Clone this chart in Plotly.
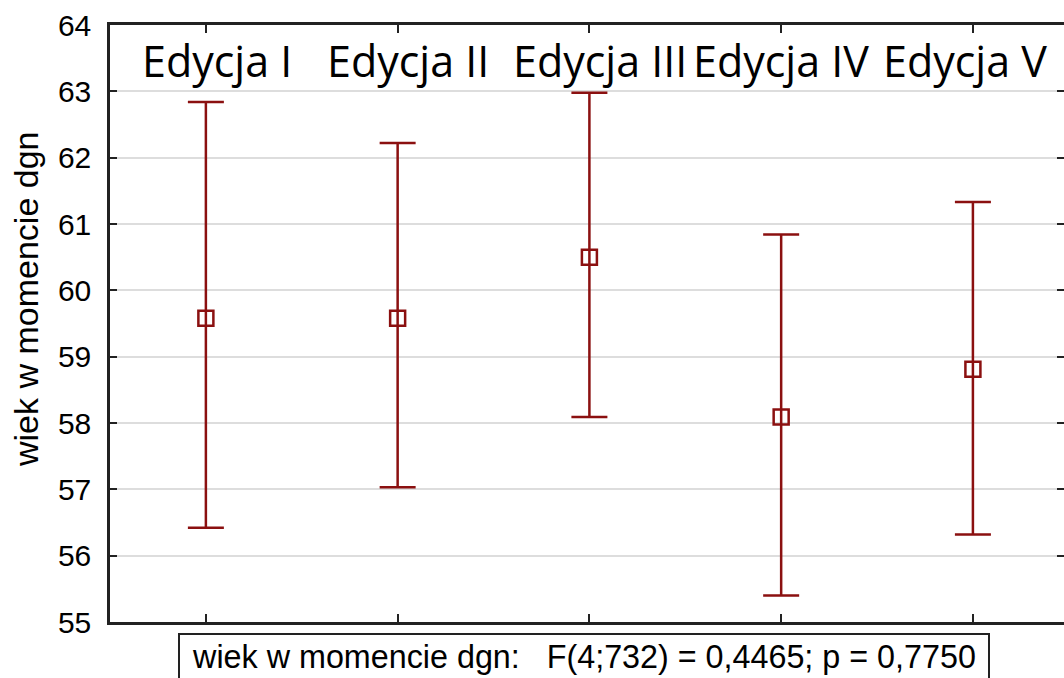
import plotly.graph_objects as go

categories = ["Edycja I", "Edycja II", "Edycja III", "Edycja IV", "Edycja V"]
positions = [1, 2, 3, 4, 5]
means = [59.58, 59.58, 60.50, 58.09, 58.81]
upper = [62.84, 62.22, 62.98, 60.84, 61.33]
lower = [56.42, 57.03, 58.09, 55.40, 56.32]
y_ticks = [55, 56, 57, 58, 59, 60, 61, 62, 63, 64]
y_title = "wiek w momencie dgn"
stat_text = "wiek w momencie dgn:   F(4;732) = 0,4465; p = 0,7750"

RED = "#8b1010"

ML, MT, MB, MR = 110, 25, 56, 0
W, H = 1064, 678
PW = W - ML - MR
PH = H - MT - MB

err_plus = [u - m for u, m in zip(upper, means)]
err_minus = [m - l for m, l in zip(means, lower)]

fig = go.Figure()
fig.add_trace(go.Scatter(
    x=positions, y=means, mode="markers",
    marker=dict(symbol="square-open", size=15, color=RED, line=dict(width=2.5, color=RED)),
    error_y=dict(type="data", symmetric=False, array=err_plus, arrayminus=err_minus,
                 color=RED, thickness=2.5, width=18),
    showlegend=False,
))
# invisible trace to activate the right-hand tick axis
fig.add_trace(go.Scatter(x=[positions[0]], y=[means[0]], yaxis="y2", mode="markers",
                         marker=dict(opacity=0), showlegend=False, hoverinfo="skip"))

label_shift = [11, 10, 11, 0, -8]
for p, c, s in zip(positions, categories, label_shift):
    fig.add_annotation(x=p, y=63.47, xref="x", yref="y", text=c, showarrow=False,
                       xanchor="center", yanchor="middle", xshift=s,
                       font=dict(family="Open Sans", size=43, color="black"))

# y-axis title
fig.add_annotation(xref="paper", yref="paper", x=-(110 - 26) / PW, y=(622 - 300) / PH,
                   xanchor="center", yanchor="middle", text=y_title, textangle=-90,
                   showarrow=False,
                   font=dict(family="Liberation Sans", size=34, color="black"))

# statistics box
fig.add_annotation(xref="paper", yref="paper", x=(178 - 110) / PW, y=-11 / PH,
                   xanchor="left", yanchor="top", text=stat_text, showarrow=False,
                   align="center", valign="top", width=800, height=60,
                   bordercolor="#222", borderwidth=2, borderpad=4,
                   bgcolor="white",
                   font=dict(family="Liberation Sans", size=32.3, color="black"))

fig.update_layout(
    width=W, height=H,
    margin=dict(l=ML, r=MR, t=MT, b=MB, autoexpand=False),
    paper_bgcolor="white", plot_bgcolor="white",
    font=dict(family="Liberation Sans", color="black"),
    yaxis2=dict(overlaying="y", side="right", range=[55, 64], tickvals=y_ticks,
                showticklabels=False, ticks="inside", ticklen=7, tickwidth=2,
                tickcolor="#222", showline=False, showgrid=False, zeroline=False,
                automargin=False),
)
fig.update_xaxes(
    range=[0.5, 5.475], tickvals=positions, showticklabels=False,
    ticks="inside", ticklen=8, tickwidth=2, tickcolor="#222",
    showline=True, linecolor="#222", linewidth=2.5, mirror="ticks",
    showgrid=False, zeroline=False, automargin=False,
)
fig.update_yaxes(
    selector=dict(overlaying=None),
    range=[55, 64], tickvals=y_ticks,
    ticks="inside", ticklen=7, tickwidth=2, tickcolor="#222",
    showline=True, linecolor="#222", linewidth=2.5, mirror=False,
    showgrid=True, gridcolor="#dddddd", gridwidth=2, zeroline=False,
    tickfont=dict(family="Liberation Sans", size=30, color="black"),
    ticklabelstandoff=10, automargin=False,
)

fig.write_html(
    "out.html",
    config={"displayModeBar": False},
    post_script="document.body.style.margin='0';"
                "document.documentElement.style.overflow='hidden';",
)
